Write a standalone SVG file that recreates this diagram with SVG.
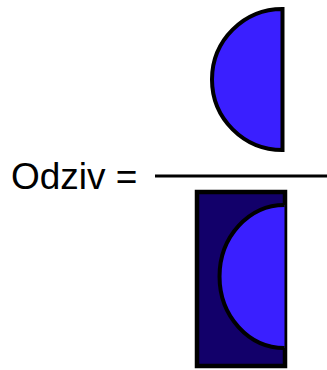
<svg xmlns="http://www.w3.org/2000/svg" width="327" height="370" viewBox="0 0 327 370">
<style>
.half{fill:#3a1fff;stroke:#000;stroke-width:4}
.lbl{font-family:"Liberation Sans",Arial,sans-serif;font-size:37px;fill:#000}
</style>
<rect width="327" height="370" fill="#fff"/>
<g id="label"><text class="lbl" x="11" y="189">Odziv =</text></g>
<g id="fraction-line"><line x1="155" y1="176" x2="327" y2="176" stroke="#000" stroke-width="3"/></g>
<g id="numerator"><path class="half" d="M282.5,9 A70.5,70.5 0 0 0 282.5,150 Z"/></g>
<g id="denominator">
<rect x="197" y="192" width="88" height="174" fill="#12006a" stroke="#000" stroke-width="4.5"/>
<path class="half" d="M284.5,205 A65,71.5 0 0 0 284.5,348"/>
</g>
</svg>
